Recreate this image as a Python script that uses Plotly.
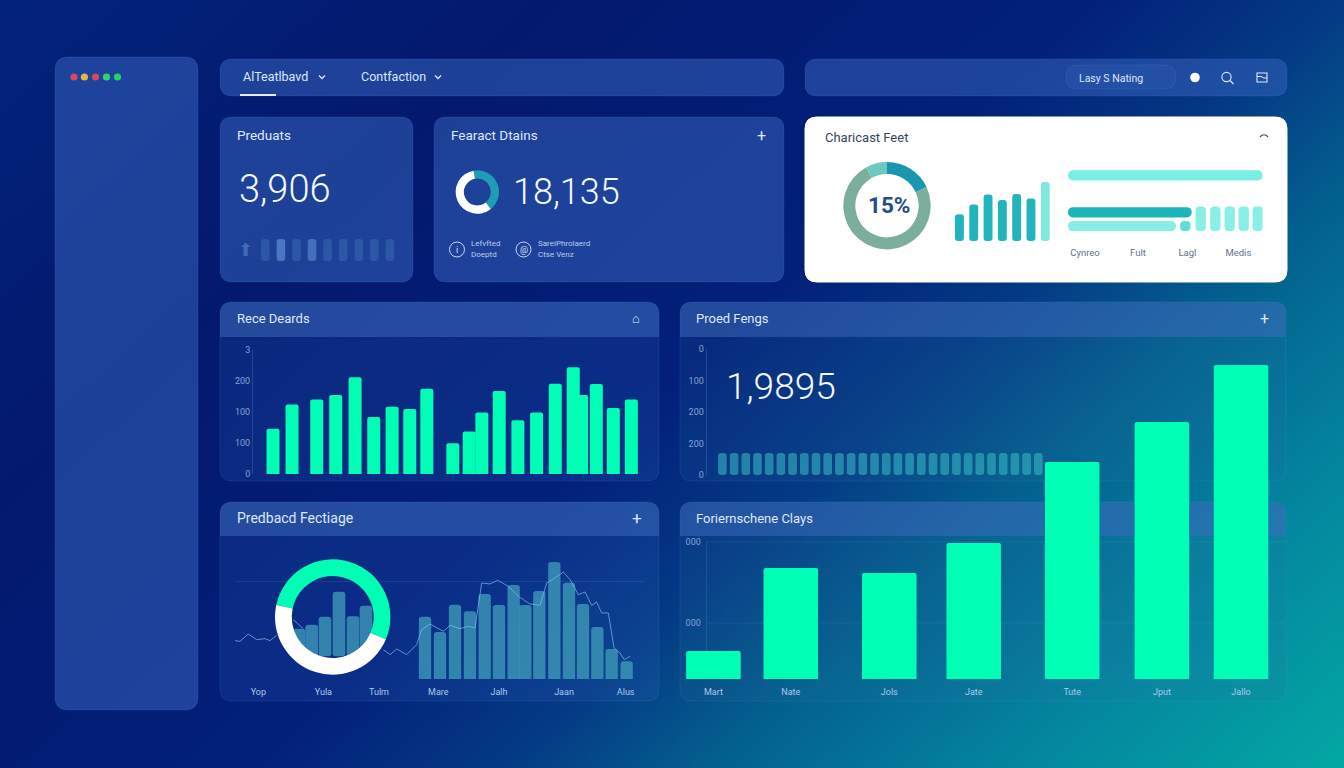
import base64

import plotly.graph_objects as go

W, H = 1344, 768

# ── Data ──────────────────────────────────────────────────────────────────
kpi_slots = [0, 1, 2, 3, 4, 5, 6, 7, 8]
kpi_levels = [21, 21, 21, 21, 21, 21, 21, 21, 21]
kpi_colors = ["#2c57a6", "#4a77c0", "#2c57a6", "#4470b8", "#2c57a6", "#2c57a6", "#2c57a6", "#2c57a6", "#2c57a6"]
feature_ring = [42, 58]
share_ring = [18, 74, 8]

share_slots = [0, 1, 2, 3, 4, 5, 6]
share_bars = [80, 109, 139, 122, 140, 127, 176]
share_labels = ["Cynreo", "Fult", "Lagl", "Medis"]
share_label_pos = [51, 210, 358, 511]
row_lengths = [584, 371, 324]
row_levels = [168, 56.5, 15]
block_pos = [352, 398, 442, 485, 527, 569]
block_heights = [30, 74, 74, 74, 74, 74]

deals_days = [60, 117, 191, 248, 306, 362, 417, 470, 521, 599, 648, 686, 738, 794, 850, 906, 985, 960, 1029, 1080, 1134]
deals_vals = [146, 224, 240, 255, 312, 184, 217, 210, 275, 99, 137, 198, 268, 173, 198, 291, 255, 344, 290, 213, 240]
deals_ticks = [0, 100, 200, 300, 400]
deals_ticktext = ["0", "100", "100", "200", "3"]

trend_slots = list(range(28))
trend_vals = [70] * 28
trend_ticks = [0, 100, 200, 300, 400]
trend_ticktext = ["0", "200", "200", "100", "0"]

feedback_ring = [53, 47]
inner_days = [192, 230, 270, 312, 354, 393]
inner_heights = [83, 95, 119, 194, 120, 152]
feedback_days = [570, 615, 660, 705, 749, 792, 836, 871, 913, 958, 1002, 1044, 1087, 1130, 1175]
feedback_vals = [187, 141, 223, 203, 255, 222, 282, 222, 264, 351, 289, 225, 156, 90, 53]
line_days = [0, 15, 40, 65, 90, 105, 125, None, 175, 205, None, 445, 465, 485, 515, 545, 560, 585, 625, 645, 675, 700,
             720, 740, 765, 788, 820, 850, 885, 915, 935, 960, 985, 1005, 1030, 1050, 1070, 1085, 1100, 1120, 1137,
             1155, 1168, 1185]
line_vals = [115, 113, 135, 118, 121, 115, 131, None, 178, 151, None, 88, 73, 90, 73, 103, 148, 165, 143, 161, 151, 158,
             153, 288, 285, 296, 278, 248, 225, 221, 288, 303, 321, 298, 253, 261, 221, 231, 198, 198, 93, 78, 58, 68]
feedback_tick_pos = [70, 265, 432, 610, 792, 987, 1172]
feedback_labels = ["Yop", "Yula", "Tulm", "Mare", "Jalh", "Jaan", "Alus"]

months = ["Mart", "Nate", "Jols", "Jate", "Tute", "Jput", "Jallo"]
month_pos = [0, 0.88, 2, 2.96, 4.08, 5.1, 6]
month_vals = [140, 555, 530, 680, 1085, 1285, 1570]
month_ticks = [280, 685]
month_ticktext = ["000", "000"]

# ── Colours ───────────────────────────────────────────────────────────────
MINT = "#00ffb4"
TITLE = "#dde8f8"
TICK = "#86a2d4"
TICK_X = "#aec8ea"
PANEL = "rgba(52,96,186,0.56)"
BODY = "rgba(46,98,190,0.20)"
BODY_RIGHT = "rgba(46,115,165,0.14)"
HEADER = "rgba(62,108,190,0.50)"
EDGE = "rgba(120,170,235,0.12)"
FONT = "Roboto"

fig = go.Figure()
shapes = []
notes = []


def px(x):
    return x / W


def py(y):
    return 1 - y / H


def rounded(x0, y0, x1, y1, r=12, bottom=True):
    """Rounded rectangle as a path in paper coordinates."""
    p = lambda x, y: f"{px(x):.5f},{py(y):.5f}"
    path = f"M{p(x0 + r, y0)} L{p(x1 - r, y0)} Q{p(x1, y0)} {p(x1, y0 + r)} "
    if bottom:
        path += f"L{p(x1, y1 - r)} Q{p(x1, y1)} {p(x1 - r, y1)} L{p(x0 + r, y1)} Q{p(x0, y1)} {p(x0, y1 - r)} "
    else:
        path += f"L{p(x1, y1)} L{p(x0, y1)} "
    return path + f"L{p(x0, y0 + r)} Q{p(x0, y0)} {p(x0 + r, y0)} Z"


def panel(x0, y0, x1, y1, fill=PANEL, edge=EDGE, r=12):
    shapes.append(dict(type="path", path=rounded(x0, y0, x1, y1, r), xref="paper", yref="paper",
                       fillcolor=fill, line=dict(color=edge, width=1), layer="below"))


def chart_panel(x0, y0, x1, y1, header_y, body=BODY):
    panel(x0, y0, x1, y1, fill=body)
    shapes.append(dict(type="path", path=rounded(x0, y0, x1, header_y, 12, bottom=False), xref="paper", yref="paper",
                       fillcolor=HEADER, line=dict(width=0), layer="below"))


def text(x, y, s, size=13, color=TITLE, anchor="left", weight=None):
    font = dict(family=FONT, size=size, color=color)
    if weight:
        font["weight"] = weight
    notes.append(dict(x=px(x), y=py(y), xref="paper", yref="paper", text=s, showarrow=False,
                      xanchor=anchor, yanchor="middle", font=font, borderpad=0))


def stroke(points, color=TITLE, width=1.3, layer="above"):
    path = "M" + " L".join(f"{px(x):.5f},{py(y):.5f}" for x, y in points)
    shapes.append(dict(type="path", path=path, xref="paper", yref="paper", line=dict(color=color, width=width),
                       layer=layer))


def circle(cx, cy, r, fill=None, color=None, width=1.1):
    shapes.append(dict(type="circle", xref="paper", yref="paper", x0=px(cx - r), x1=px(cx + r), y0=py(cy + r),
                       y1=py(cy - r), fillcolor=fill or "rgba(0,0,0,0)",
                       line=dict(color=color or "rgba(0,0,0,0)", width=width if color else 0)))


def axes(n, box, x_range, y_range, xkw=None, ykw=None):
    x0, y0, x1, y1 = box
    base = dict(showgrid=False, zeroline=False, showticklabels=False, ticks="", fixedrange=True, automargin=False)
    xa = dict(base, domain=[px(x0), px(x1)], range=x_range, anchor=f"y{n}")
    ya = dict(base, domain=[py(y1), py(y0)], range=y_range, anchor=f"x{n}")
    xa.update(xkw or {})
    ya.update(ykw or {})
    fig.update_layout(**{f"xaxis{n}": xa, f"yaxis{n}": ya})


def ring(cx, cy, r, hole, values, colors, rotation):
    fig.add_trace(go.Pie(values=values, hole=hole, sort=False, direction="clockwise", rotation=rotation,
                         marker=dict(colors=colors, line=dict(width=0)), textinfo="none", hoverinfo="skip",
                         showlegend=False, domain=dict(x=[px(cx - r), px(cx + r)], y=[py(cy + r), py(cy - r)])))


def bars(n, x, y, width, color, radius=2, **kw):
    fig.add_trace(go.Bar(x=x, y=y, width=width, xaxis=f"x{n}", yaxis=f"y{n}", showlegend=False, hoverinfo="skip",
                         marker=dict(color=color, line=dict(width=0), cornerradius=radius), **kw))


tick_font = dict(family=FONT, size=9, color=TICK)
tick_font_x = dict(family=FONT, size=9, color=TICK_X)
axis_line = "rgba(130,170,230,0.22)"

# ── Panels ────────────────────────────────────────────────────────────────
panel(55, 57, 198, 710, r=13)
panel(220, 59, 784, 96)
panel(805, 59, 1287, 96)
panel(220, 117, 413, 282)
panel(434, 117, 784, 282)
panel(805, 117, 1287, 282, fill="#ffffff", edge="#ffffff")
chart_panel(220, 302, 659, 481, 337)
chart_panel(680, 302, 1286, 481, 337, BODY_RIGHT)
chart_panel(220, 502, 659, 701, 536)
chart_panel(680, 502, 1286, 701, 536, BODY_RIGHT)

# window dots
for cx, dot in zip([74, 84.4, 95.5, 106.5, 117.5], ["#e0475c", "#e8b73a", "#d8475e", "#2fd866", "#1fd660"]):
    circle(cx, 77, 3.6, fill=dot)

# ── Top navigation ────────────────────────────────────────────────────────
text(241.5, 77, "AlTeatlbavd", 12.5)
stroke([(319, 75.5), (322, 78.5), (325, 75.5)])
text(360, 77, "Contfaction", 12.5)
stroke([(435, 75.5), (438, 78.5), (441, 75.5)])
shapes.append(dict(type="line", xref="paper", yref="paper", x0=px(240), x1=px(276), y0=py(95), y1=py(95),
                   line=dict(color="#e6eefb", width=2)))
panel(1066, 65, 1176, 89, fill="rgba(40,85,170,0.55)", r=12)
text(1111, 78, "Lasy S Nating", 10.5, anchor="center")
circle(1195, 77.5, 4.8, fill="#ffffff")
circle(1226.5, 77, 4.6, color=TITLE)
stroke([(1230, 80.5), (1233.5, 84)])
shapes.append(dict(type="rect", xref="paper", yref="paper", x0=px(1257), x1=px(1267), y0=py(82), y1=py(73),
                   line=dict(color=TITLE, width=1.1)))
stroke([(1257, 76.5), (1262, 76.5), (1263, 78), (1267, 78)], width=1)

# ── Preduats card ─────────────────────────────────────────────────────────
text(236, 135, "Preduats", 13.5)
text(238, 189, "3,906", 38, "#f4f8ff", weight=300)
text(246, 249, "⬆", 18, "#3f6cb5", anchor="center")
axes(1, (258, 239, 398, 261), [-0.47, 8.52], [0, 21])
bars(1, kpi_slots, kpi_levels, 0.55, kpi_colors, 3, base=0)

# ── Feature card ──────────────────────────────────────────────────────────
text(450, 135, "Fearact Dtains", 13.5)
text(761, 135, "+", 16, anchor="center")
ring(477.3, 192, 21.7, 0.62, feature_ring, ["#1f9db5", "#ffffff"], 350)
text(512, 192, "18,135", 36, "#f4f8ff", weight=300)
circle(457, 249.5, 7.5, color=TITLE, width=0.9)
text(457, 249.5, "i", 9, anchor="center")
text(470, 244, "Lefvfted", 8, "#b9cdea")
text(470, 254, "Doeptd", 8, "#b9cdea")
circle(523.5, 249.5, 7.5, color=TITLE, width=0.9)
text(523.5, 249.5, "@", 9, anchor="center")
text(537, 244, "SareiPhrolaerd", 8, "#b9cdea")
text(537, 254, "Ctse Venz", 8, "#b9cdea")

# ── White card ────────────────────────────────────────────────────────────
text(824, 137.5, "Charicast Feet", 13, "#34465c")
stroke([(1260, 137), (1262, 135), (1266, 135), (1268, 137)], color="#34465c", width=1.1)
ring(887, 205.7, 43.7, 0.725, share_ring, ["#1a97b0", "#7cae9c", "#6cc9c0"], 0)
text(889, 205, "15%", 22.5, "#1f4e8c", anchor="center", weight=700)
axes(2, (952, 182, 1051, 241), [-0.52, 6.4], [0, 176])
bars(2, share_slots, share_bars, 0.62, ["#22b4bd"] * 6 + ["#7fe8e0"], 3, base=0)
axes(3, (1068, 170, 1262.7, 231), [0, 584], [0, 184],
     dict(showticklabels=True, tickmode="array", tickvals=share_label_pos, ticktext=share_labels,
          tickfont=dict(family=FONT, size=9.5, color="#5d728c"), ticks="outside", ticklen=13,
          tickcolor="rgba(0,0,0,0)"))
bars(3, block_pos, block_heights, 31, ["#5fded6"] + ["#8aefe6"] * 5, 4, base=0)
fig.add_trace(go.Bar(x=row_lengths, y=row_levels, base=0, orientation="h", width=31, xaxis="x3", yaxis="y3",
                     showlegend=False, hoverinfo="skip",
                     marker=dict(color=["#79efe3", "#19b5ba", "#86eee5"], line=dict(width=0), cornerradius=5)))

# ── Rece Deards ───────────────────────────────────────────────────────────
text(236, 318.5, "Rece Deards", 13)
text(636, 318.5, "⌂", 13, anchor="center")
axes(4, (253, 350, 640, 474), [0, 1160], [0, 400], None,
     dict(showticklabels=True, tickmode="array", tickvals=deals_ticks, ticktext=deals_ticktext, tickfont=tick_font,
          showline=True, linecolor=axis_line, linewidth=1))
bars(4, deals_days, deals_vals, 39, MINT)

# ── Prood Fengs ───────────────────────────────────────────────────────────
text(695, 318.5, "Proed Fengs", 13)
text(1264, 318.5, "+", 16, anchor="center")
text(725, 386, "1,9895", 37, "#f4f8ff", weight=300)
axes(5, (706.6, 349, 1043, 475), [-1.35, 27.4], [0, 400], None,
     dict(showticklabels=True, tickmode="array", tickvals=trend_ticks, ticktext=trend_ticktext, tickfont=tick_font,
          showline=True, linecolor=axis_line, linewidth=1))
bars(5, trend_slots, trend_vals, 0.74, "rgba(55,185,195,0.58)", 3, base=0)

# ── Predbacd Fectiage ─────────────────────────────────────────────────────
text(236, 518, "Predbacd Fectiage", 14)
text(637, 518, "+", 17, anchor="center")
axes(6, (235, 541.3, 645, 679), [0, 1230], [0, 413],
     dict(showticklabels=True, tickmode="array", tickvals=feedback_tick_pos, ticktext=feedback_labels,
          tickfont=tick_font_x, ticks="outside", ticklen=4, tickcolor="rgba(0,0,0,0)"),
     dict(showgrid=True, tickmode="array", tickvals=[0, 293], gridcolor="rgba(130,170,230,0.14)"))
bars(6, inner_days, inner_heights, 38, "rgba(62,155,185,0.78)", 3, base=68)
bars(6, feedback_days, feedback_vals, 37, "rgba(62,155,185,0.78)", 3)
fig.add_trace(go.Scatter(x=line_days, y=line_vals, mode="lines", xaxis="x6", yaxis="y6", showlegend=False,
                         hoverinfo="skip", line=dict(color="rgba(125,190,235,0.7)", width=1)))
ring(332.7, 617, 57.7, 0.71, feedback_ring, [MINT, "#ffffff"], 282)

# ── Foriernschene Clays ───────────────────────────────────────────────────
text(695, 518, "Foriernschene Clays", 13)
stroke([(706.6, 542), (706.6, 679)], color="rgba(130,190,230,0.16)", width=1, layer="below")
axes(7, (680, 360, 1285, 679), [-0.38, 6.5], [0, 1595],
     dict(showticklabels=True, tickmode="array", tickvals=month_pos, ticktext=months, tickfont=tick_font_x,
          ticks="outside", ticklen=4, tickcolor="rgba(0,0,0,0)"),
     dict(anchor="free", position=px(706.6), showticklabels=True, tickmode="array", tickvals=month_ticks,
          ticktext=month_ticktext, tickfont=tick_font, ticks="outside", ticklen=4, tickcolor="rgba(0,0,0,0)"))
# the grid stops at the y axis line, the first bar sits left of it
for tick in month_ticks:
    shapes.append(dict(type="line", xref="paper", yref="y7", x0=px(706.6), x1=px(1285), y0=tick, y1=tick,
                       line=dict(color="rgba(130,190,230,0.12)", width=1), layer="below"))
bars(7, month_pos, month_vals, 0.62, MINT)

# ── Background as an inline svg gradient ──────────────────────────────────
svg = f"""<svg xmlns="http://www.w3.org/2000/svg" width="{W}" height="{H}" preserveAspectRatio="none">
<defs>
<linearGradient id="a" gradientUnits="userSpaceOnUse" x1="0" y1="0" x2="991" y2="1089">
<stop offset="0" stop-color="#02237c"/><stop offset="0.25" stop-color="#03196e"/>
<stop offset="0.5" stop-color="#02207a"/><stop offset="0.614" stop-color="#043a84"/>
<stop offset="0.71" stop-color="#03608e"/><stop offset="0.85" stop-color="#0486a0"/>
<stop offset="1" stop-color="#02a8a2"/>
</linearGradient>
</defs>
<rect width="{W}" height="{H}" fill="url(#a)"/>
</svg>"""
bg = "data:image/svg+xml;base64," + base64.b64encode(svg.encode()).decode()

fig.update_layout(
    width=W, height=H, margin=dict(l=0, r=0, t=0, b=0), barmode="overlay",
    paper_bgcolor="#03196e", plot_bgcolor="rgba(0,0,0,0)", shapes=shapes, annotations=notes,
    images=[dict(source=bg, xref="paper", yref="paper", x=0, y=1, sizex=1, sizey=1, sizing="stretch",
                 xanchor="left", yanchor="top", layer="below")],
)

fig.write_html("out.html", config={"displayModeBar": False},
               post_script="document.body.style.margin='0';document.body.style.overflow='hidden';")
